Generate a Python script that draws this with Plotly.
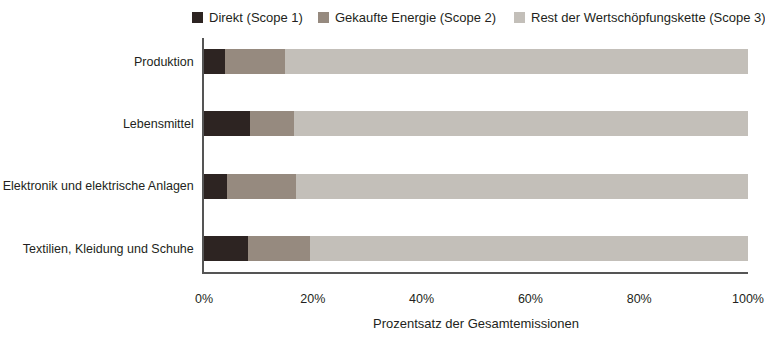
import plotly.graph_objects as go

# Sectors, top to bottom
sectors = [
    "Produktion",
    "Lebensmittel",
    "Elektronik und elektrische Anlagen",
    "Textilien, Kleidung und Schuhe",
]

# Share of total emissions in percent
scope1 = [3.9, 8.5, 4.2, 8.1]
scope2 = [11.0, 8.0, 12.7, 11.4]
scope3 = [85.1, 83.5, 83.1, 80.5]

series_names = [
    "Direkt (Scope 1)",
    "Gekaufte Energie (Scope 2)",
    "Rest der Wertschöpfungskette (Scope 3)",
]
series_values = [scope1, scope2, scope3]
colors = ["#2d2422", "#968a7f", "#c3bfb9"]

x_ticks = [0, 20, 40, 60, 80, 100]
x_tick_labels = ["0%", "20%", "40%", "60%", "80%", "100%"]

FONT = "Liberation Sans, Arial, sans-serif"
TEXT = "#231f20"
FS = 12.5

W, H = 765, 342
M = dict(l=204, r=17, t=38, b=70)
PLOT_W = W - M["l"] - M["r"]
PLOT_H = H - M["t"] - M["b"]


def px_to_paper_x(px):
    return (px - M["l"]) / PLOT_W


def px_to_paper_y(py):
    return (H - M["b"] - py) / PLOT_H


fig = go.Figure()
for name, vals, col in zip(series_names, series_values, colors):
    fig.add_trace(go.Bar(
        y=sectors, x=vals, name=name, orientation="h",
        marker=dict(color=col, line=dict(width=0)),
        width=0.4, showlegend=False,
    ))

# Compact one-row legend above the plot: swatch + label per series
legend_left_px = [192, 318, 514]
swatch = 11
legend_top_px = 12
shapes, annotations = [], []
for name, col, lx in zip(series_names, colors, legend_left_px):
    shapes.append(dict(
        type="rect", xref="paper", yref="paper",
        x0=px_to_paper_x(lx), x1=px_to_paper_x(lx + swatch),
        y0=px_to_paper_y(legend_top_px + swatch), y1=px_to_paper_y(legend_top_px),
        fillcolor=col, line=dict(width=0),
    ))
    annotations.append(dict(
        xref="paper", yref="paper",
        x=px_to_paper_x(lx + swatch + 4), y=px_to_paper_y(legend_top_px + swatch / 2),
        xanchor="left", yanchor="middle", showarrow=False,
        text=name, font=dict(family=FONT, size=13, color=TEXT),
    ))

fig.update_layout(
    barmode="stack",
    width=W, height=H,
    margin=dict(**M, autoexpand=False),
    paper_bgcolor="white", plot_bgcolor="white",
    font=dict(family=FONT, size=FS, color=TEXT),
    showlegend=False,
    shapes=shapes,
    annotations=annotations,
    xaxis=dict(
        range=[0, 100], tickvals=x_ticks, ticktext=x_tick_labels,
        showgrid=False, zeroline=False,
        showline=True, linecolor="#555555", linewidth=1.5,
        ticks="", ticklabelstandoff=14, ticklabeloverflow="allow",
        title=dict(text="Prozentsatz der Gesamtemissionen", standoff=14,
                   font=dict(family=FONT, size=13, color=TEXT)),
    ),
    yaxis=dict(
        categoryorder="array", categoryarray=sectors,
        range=[3.38, -0.38],
        showgrid=False, zeroline=False,
        showline=True, linecolor="#555555", linewidth=1.5,
        ticks="", ticklabelstandoff=6, ticklabeloverflow="allow",
    ),
)

fig.write_html("out.html")
